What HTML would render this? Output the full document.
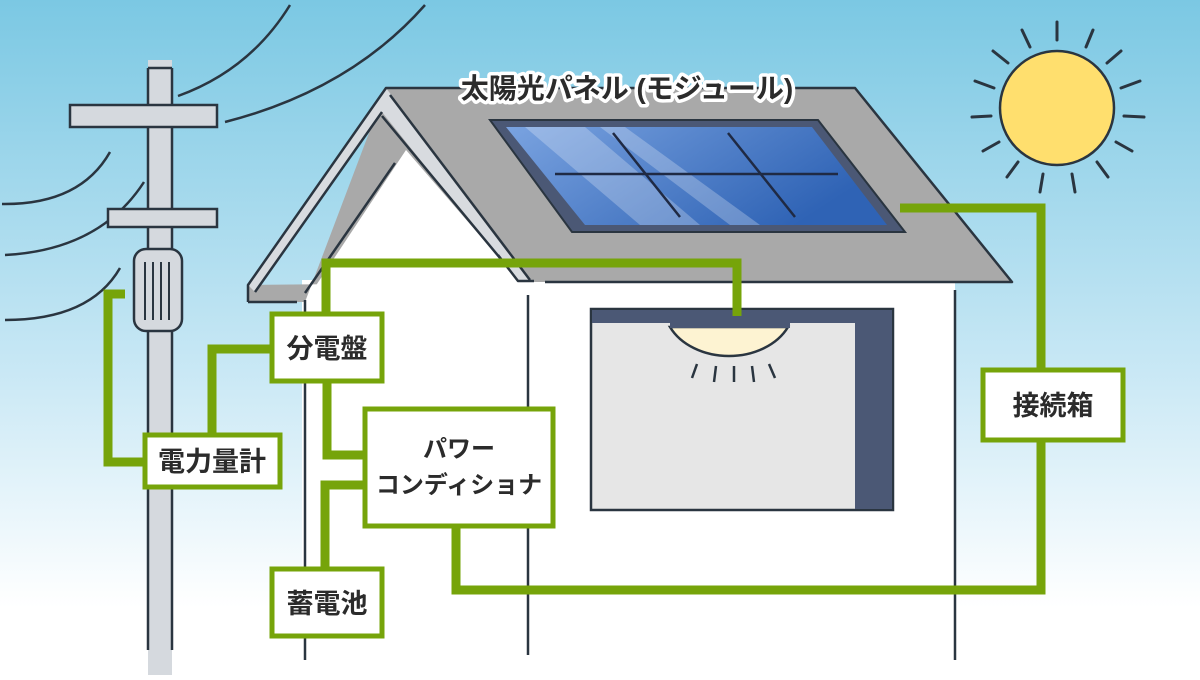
<!DOCTYPE html>
<html><head><meta charset="utf-8"><style>
html,body{margin:0;padding:0;}
body{width:1200px;height:675px;overflow:hidden;}
text{font-family:"Liberation Sans","Noto Sans CJK JP",sans-serif;}
</style></head><body>
<svg width="1200" height="675" viewBox="0 0 1200 675" xmlns="http://www.w3.org/2000/svg">
<defs>
<linearGradient id="sky" x1="0" y1="0" x2="0" y2="1">
<stop offset="0" stop-color="#7bc8e3"/><stop offset="0.55" stop-color="#c9e8f5"/><stop offset="0.9" stop-color="#ffffff"/>
</linearGradient>
<linearGradient id="pv" x1="0" y1="0" x2="1" y2="0.4">
<stop offset="0" stop-color="#7aa3e0"/><stop offset="1" stop-color="#2f63b5"/>
</linearGradient>
</defs>
<rect width="1200" height="675" fill="url(#sky)"/>
<g fill="none" stroke="#2a3540" stroke-width="2.5">
<path d="M178,96 Q250,70 290,5"/>
<path d="M225,122 Q350,90 425,5"/>
<path d="M2,204 Q80,205 110,152"/>
<path d="M5,255 Q100,250 144,182"/>
<path d="M5,320 Q90,320 120,268"/>
</g>
<rect x="148" y="60" width="24" height="615" fill="#d5d9de"/>
<g stroke="#2a3540" stroke-width="2.5">
<line x1="148" y1="68" x2="148" y2="650"/><line x1="172" y1="68" x2="172" y2="650"/>
<line x1="148" y1="68" x2="172" y2="68"/>
</g>
<rect x="70" y="105" width="147" height="22" fill="#d5d9de" stroke="#2a3540" stroke-width="2.5"/>
<rect x="108" y="209" width="109" height="18" fill="#d5d9de" stroke="#2a3540" stroke-width="2.5"/>
<rect x="134" y="249" width="48" height="82" rx="12" fill="#d5d9de" stroke="#2a3540" stroke-width="2.5"/>
<g stroke="#2a3540" stroke-width="2"><line x1="145" y1="262" x2="145" y2="320"/><line x1="153" y1="262" x2="153" y2="320"/><line x1="161" y1="262" x2="161" y2="320"/><line x1="169" y1="262" x2="169" y2="320"/></g>
<rect x="302" y="280" width="653" height="395" fill="#fff"/>
<polygon points="386,88 855,88 1012,282 530,282 248,285 248,302 305,302" fill="#a9a9a9"/>
<polygon points="406,150 305,302 535,302 520,282" fill="#fff"/>
<polygon points="386,88 248,285 255,292 382,112 518,282 533,282" fill="#d8dbdf"/>
<g fill="none" stroke="#2a3540" stroke-width="2.5" stroke-linejoin="round">
<polyline points="248,302 248,285 386,88 855,88 1012,282 545,282"/>
<line x1="382" y1="112" x2="255" y2="292"/>
<line x1="390" y1="95" x2="530" y2="280"/>
<line x1="382" y1="116" x2="500" y2="258"/>
<polyline points="498,255 518,281 534,281"/>
<line x1="395" y1="163" x2="305" y2="293"/>
<line x1="248" y1="302" x2="297" y2="302"/>
</g>
<polygon points="490,120 818,120 905,232 572,232" fill="#4b5875" stroke="#2a3540" stroke-width="2"/>
<polygon points="506,127 812,127 887,225 585,225" fill="url(#pv)"/>
<polygon points="525,127 585,127 700,225 640,225" fill="#ffffff" opacity="0.25"/>
<polygon points="600,127 625,127 760,225 730,225" fill="#ffffff" opacity="0.25"/>
<g stroke="#1f2a44" stroke-width="2.5"><line x1="555" y1="174" x2="838" y2="174"/><line x1="613" y1="133" x2="680" y2="217"/><line x1="728" y1="133" x2="795" y2="217"/></g>
<g stroke="#2a3540" stroke-width="2.5">
<line x1="305" y1="300" x2="305" y2="660"/><line x1="955" y1="290" x2="955" y2="660"/>
<line x1="528" y1="295" x2="528" y2="660" stroke-dasharray="360,12"/>
</g>
<rect x="591" y="309" width="302" height="201" fill="#e6e6e6" stroke="#2a3540" stroke-width="2.5"/>
<rect x="592" y="310" width="300" height="13" fill="#4b5875"/>
<rect x="855" y="310" width="37" height="199" fill="#4b5875"/>
<path d="M670,327 A65,50 0 0 0 788,327 Z" fill="#fdf3d2" stroke="#2a3540" stroke-width="2.5"/>
<rect x="670" y="322" width="120" height="6" fill="#4b5875"/>
<g stroke="#2a3540" stroke-width="2.5"><line x1="697" y1="364" x2="692" y2="378"/><line x1="716" y1="366" x2="714" y2="382"/><line x1="734" y1="366" x2="734" y2="382"/><line x1="752" y1="366" x2="754" y2="382"/><line x1="769" y1="364" x2="775" y2="378"/></g>
<circle cx="1057" cy="108" r="57" fill="#ffdf6e" stroke="#2a3540" stroke-width="2.5"/>
<g stroke="#2a3540" stroke-width="3" stroke-linecap="round">
<line x1="1057" y1="22" x2="1057" y2="40"/><line x1="1022" y1="30" x2="1030" y2="47"/><line x1="1093" y1="30" x2="1086" y2="47"/>
<line x1="993" y1="51" x2="1008" y2="63"/><line x1="1121" y1="51" x2="1107" y2="63"/>
<line x1="975" y1="81" x2="994" y2="88"/><line x1="1140" y1="81" x2="1121" y2="88"/>
<line x1="972" y1="117" x2="991" y2="116"/><line x1="1144" y1="117" x2="1124" y2="116"/>
<line x1="983" y1="151" x2="999" y2="142"/><line x1="1132" y1="151" x2="1116" y2="142"/>
<line x1="1007" y1="177" x2="1018" y2="162"/><line x1="1108" y1="177" x2="1097" y2="162"/>
<line x1="1040" y1="192" x2="1043" y2="174"/><line x1="1075" y1="192" x2="1072" y2="174"/>
</g>
<g fill="none" stroke="#76a40a" stroke-width="9">
<polyline points="900,208 1041,208 1041,370"/>
<polyline points="1041,440 1041,590 456,590 456,527"/>
<polyline points="326,312 326,263 737,263 737,316"/>
<polyline points="327,382 327,455 363,455"/>
<polyline points="270,349 212,349 212,434"/>
<polyline points="143,462 108,462 108,294 125,294"/>
<polyline points="325,568 325,485 363,485"/>
</g>
<g fill="#fff" stroke="#76a40a" stroke-width="5">
<rect x="272" y="314" width="110" height="67"/>
<rect x="145" y="435" width="135" height="52"/>
<rect x="365" y="409" width="188" height="117"/>
<rect x="272" y="569" width="110" height="67"/>
<rect x="983" y="370" width="140" height="70"/>
</g>
<g fill="#2b2b2b" font-size="27" text-anchor="middle" font-weight="bold">
<text x="327" y="358">分電盤</text>
<text x="212" y="471">電力量計</text>
<text x="327" y="613">蓄電池</text>
<text x="1053" y="415">接続箱</text>
</g>
<g fill="#2b2b2b" font-size="24" text-anchor="middle" font-weight="bold">
<text x="459" y="457">パワー</text>
<text x="459" y="493">コンディショナ</text>
</g>
<text x="627" y="98" font-size="28" font-weight="bold" text-anchor="middle" fill="#2b2b2b" stroke="#fff" stroke-width="7" paint-order="stroke" stroke-linejoin="round">太陽光パネル (モジュール)</text>
</svg>
</body></html>
